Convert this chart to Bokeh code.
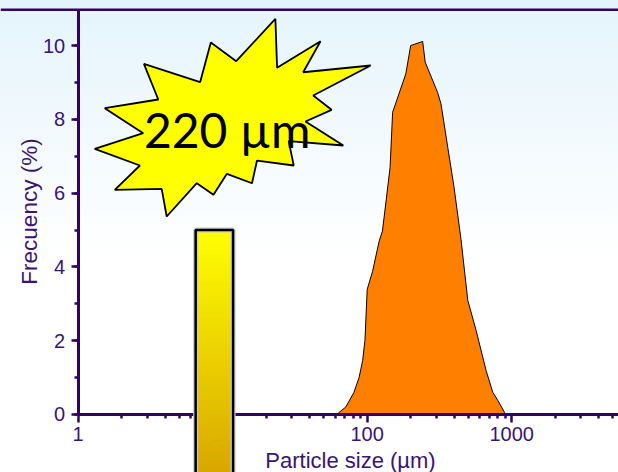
import numpy as np
from bokeh.plotting import figure
from bokeh.models import Span, FixedTicker, SingleIntervalTicker, Range1d, Label
from bokeh.embed import file_html
from bokeh.resources import INLINE

# ---- data ----
sizes = [62, 64, 71, 81, 88, 93, 96.5, 100, 109, 121, 127.5, 144, 150, 185, 200,
         242, 252, 307, 324, 361, 399, 446, 497, 567, 665, 740, 802, 891, 916]
freq = [0, 0.06, 0.2, 0.6, 1.01, 1.46, 2.01, 3.39, 3.88, 4.70, 4.97, 6.69, 8.19, 9.23, 10.0,
        10.11, 9.55, 8.73, 8.42, 7.24, 6.16, 4.74, 3.09, 2.28, 1.19, 0.60, 0.38, 0.06, 0]
x_major = [1, 10, 100, 1000]
x_major_labels = ["1", "10", "100", "1000"]
y_major_step = 2
marker_bar_x = [6.5, 11.8]      # µm extent of the marker bar
marker_bar_top = [5]
mean_label = "220 µm"
x_title = "Particle size (µm)"
y_title = "Frecuency (%)"

# decorative star (log10 x, y) vertices
star_lx = [1.3646, 1.3764, 1.6771, 1.5569, 2.0243, 1.6264, 1.7535, 1.5729, 1.8347, 1.4569,
           1.4917, 1.2375, 1.2028, 1.0292, 0.9361, 0.8208, 0.6125, 0.5778, 0.2535, 0.4271,
           0.1146, 0.45, 0.184, 0.5542, 0.4549, 0.8438, 0.918, 1.0938]
star_y = [10.724, 9.396, 10.117, 9.276, 9.458, 8.645, 8.257, 7.940, 7.290, 7.407,
          6.748, 6.883, 6.268, 6.523, 5.954, 6.268, 5.366, 6.117, 6.089, 6.748,
          7.201, 7.623, 8.301, 8.537, 9.504, 9.005, 10.081, 9.575]

PURPLE = "#330066"
TXT = "#3a1472"
W, H = 618, 472
Y0, Y1 = -1.572, 11.22
X0, X1 = 0.290, 5484
YTOP = 10.97

p = figure(width=W, height=H, x_axis_type="log",
           x_range=Range1d(X0, X1), y_range=Range1d(Y0, Y1),
           output_backend="svg", toolbar_location=None,
           min_border_left=0, min_border_right=0, min_border_top=0, min_border_bottom=0)
p.background_fill_color = None
p.border_fill_color = None
p.outline_line_color = None
p.styles = {"background": "linear-gradient(to bottom, #e4f4fc 0%, #ffffff 55%)"}
p.grid.visible = False

# distribution
p.varea(x=sizes, y1=0, y2=freq, fill_color="#ff8000")
p.line(sizes, freq, line_color="black", line_width=1)

# star + label
p.patch([10 ** v for v in star_lx], star_y, fill_color="#ffff00",
        line_color="black", line_width=1.8)
p.add_layout(Label(x=10 ** 1.031, y=7.72, text=mean_label, text_font="Lato",
                   text_font_size="48px", text_align="center",
                   text_baseline="alphabetic", text_color="black"))

# gradient marker bar (drawn over the axis)
n = 60
edges = np.linspace(marker_bar_top[0], Y0, n + 1)
c0 = np.array([255, 255, 0]); c1 = np.array([217, 168, 0])
cols = []
for i in range(n):
    t = i / (n - 1)
    c = (c0 + (c1 - c0) * t).astype(int)
    cols.append("#%02x%02x%02x" % tuple(c))
p.quad(left=marker_bar_x[0], right=marker_bar_x[1], bottom=edges[1:], top=edges[:-1],
       fill_color=cols, line_color=cols, line_width=1, level="overlay")
p.quad(left=marker_bar_x[0], right=marker_bar_x[1], bottom=Y0 - 1, top=marker_bar_top[0],
       fill_color=None, line_color="#c8c8c8", line_width=5, level="overlay")
p.quad(left=marker_bar_x[0], right=marker_bar_x[1], bottom=Y0 - 1, top=marker_bar_top[0],
       fill_color=None, line_color="black", line_width=2.5, level="overlay")

# top border line
p.add_layout(Span(location=YTOP, dimension="width", line_color=PURPLE, line_width=2.5))

# x axis
xa = p.xaxis[0]
xa.fixed_location = 0
xa.bounds = (1, X1)
xa.ticker = FixedTicker(ticks=x_major,
                        minor_ticks=[m * 10 ** d for d in range(0, 4) for m in range(2, 10)])
xa.major_label_overrides = {v: s for v, s in zip(x_major, x_major_labels)}
xa.axis_line_color = PURPLE
xa.axis_line_width = 3
xa.major_tick_line_color = PURPLE
xa.major_tick_line_width = 2.5
xa.minor_tick_line_color = PURPLE
xa.minor_tick_line_width = 2.5
xa.major_tick_in = 0
xa.major_tick_out = 8
xa.minor_tick_in = 0
xa.minor_tick_out = 4
xa.major_label_text_font = "Liberation Sans"
xa.major_label_text_font_size = "20px"
xa.major_label_text_color = TXT
xa.major_label_standoff = 5

# y axis
ya = p.yaxis[0]
ya.fixed_location = 1
ya.ticker = SingleIntervalTicker(interval=y_major_step, num_minor_ticks=2)
ya.bounds = (0, YTOP)
ya.axis_line_color = PURPLE
ya.axis_line_width = 3
ya.major_tick_line_color = PURPLE
ya.major_tick_line_width = 2.5
ya.minor_tick_line_color = PURPLE
ya.minor_tick_line_width = 2.5
ya.major_tick_in = 0
ya.major_tick_out = 7
ya.minor_tick_in = 0
ya.minor_tick_out = 4
ya.major_label_text_font = "Liberation Sans"
ya.major_label_text_font_size = "20px"
ya.major_label_text_color = TXT
ya.major_label_standoff = 6

# axis titles
p.add_layout(Label(x=350, y=H - 460, x_units="screen", y_units="screen", text=x_title,
                   text_font="Liberation Sans", text_font_size="22px", text_color=TXT,
                   text_align="center", text_baseline="alphabetic"))
p.add_layout(Label(x=29, y=H - 211, x_units="screen", y_units="screen", text=y_title,
                   angle=np.pi / 2, text_font="Liberation Sans", text_font_size="22.5px",
                   text_color=TXT, text_align="center", text_baseline="alphabetic"))

open("out.html", "w").write(file_html(p, INLINE))
